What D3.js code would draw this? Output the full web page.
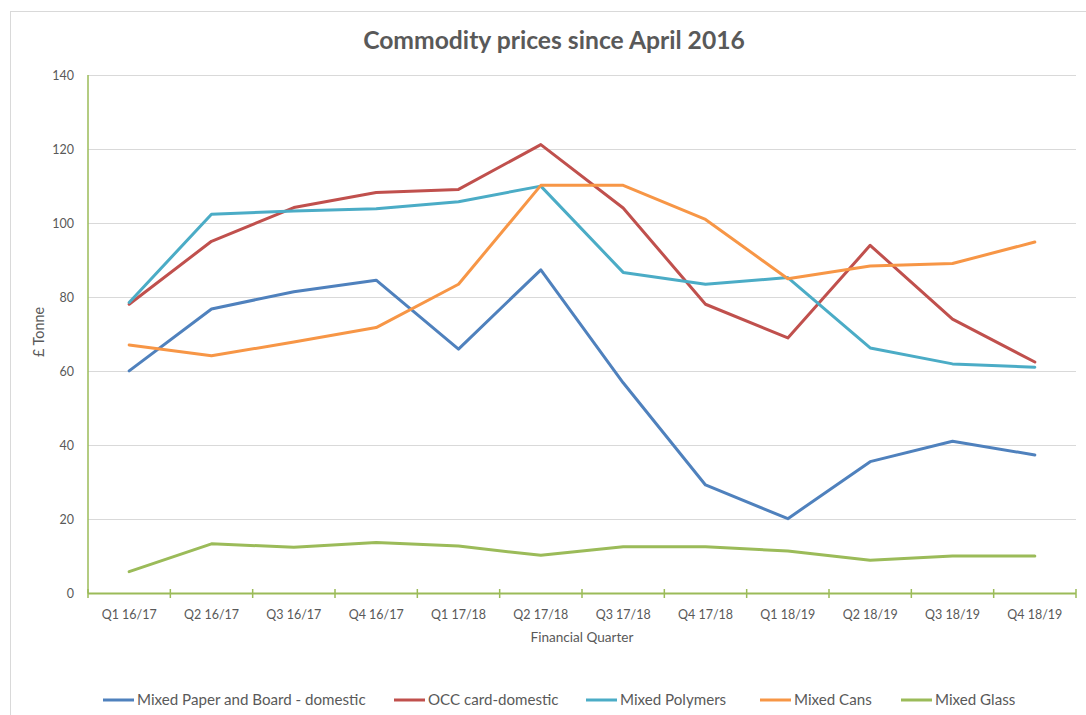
<!DOCTYPE html>
<html>
<head>
<meta charset="utf-8">
<script src="https://cdn.jsdelivr.net/npm/d3@7"></script>
<style>
  html, body { margin: 0; padding: 0; background: #fff; }
  svg { display: block; font-family: Lato, "Open Sans", sans-serif; }
</style>
</head>
<body>
<svg id="chart" width="1086" height="715"></svg>
<script>
const categories = ["Q1 16/17","Q2 16/17","Q3 16/17","Q4 16/17","Q1 17/18","Q2 17/18","Q3 17/18","Q4 17/18","Q1 18/19","Q2 18/19","Q3 18/19","Q4 18/19"];
const seriesNames = ["Mixed Paper and Board - domestic","OCC card-domestic","Mixed Polymers","Mixed Cans","Mixed Glass"];
const mixedPaper = [60.1, 76.8, 81.5, 84.6, 66.0, 87.4, 56.9, 29.3, 20.2, 35.6, 41.1, 37.4];
const occCard    = [78.1, 95.1, 104.2, 108.3, 109.1, 121.2, 104.1, 78.1, 69.0, 94.0, 74.1, 62.5];
const polymers   = [78.6, 102.4, 103.3, 103.9, 105.8, 110.0, 86.7, 83.5, 85.3, 66.3, 62.0, 61.1];
const cans       = [67.1, 64.2, 67.9, 71.8, 83.5, 110.2, 110.2, 101.0, 85.0, 88.4, 89.1, 94.9];
const glass      = [5.9, 13.4, 12.5, 13.8, 12.8, 10.3, 12.6, 12.6, 11.5, 9.0, 10.1, 10.1];
const yTicks = [0, 20, 40, 60, 80, 100, 120, 140];
const titleText = "Commodity prices since April 2016";
const xTitle = "Financial Quarter";
const yTitle = "£ Tonne";

const seriesValues = [mixedPaper, occCard, polymers, cans, glass];
const colors = ["#4F81BD", "#C0504D", "#4BACC6", "#F79646", "#9BBB59"];

const svg = d3.select("#chart");
const grey = "#595959";

// helper: font size that makes text reach a target width
function sizeFor(text, weight, target) {
  const t = svg.append("text").attr("font-size", 100).attr("font-weight", weight).text(text);
  const w = t.node().getComputedTextLength();
  t.remove();
  return 100 * target / w;
}

// outer border
svg.append("rect").attr("x", 10.5).attr("y", 11.5).attr("width", 1100).attr("height", 720)
  .attr("fill", "none").attr("stroke", "#d9d9d9").attr("stroke-width", 1);

const pLeft = 88, pRight = 1076, pTop = 75, pBottom = 593.5;
const x = d3.scaleBand().domain(categories).range([pLeft, pRight]).padding(0);
const y = d3.scaleLinear().domain([0, 140]).range([pBottom, pTop]);
const cx = c => x(c) + x.bandwidth() / 2;

// gridlines
svg.append("g").selectAll("line").data(yTicks.filter(d => d > 0)).join("line")
  .attr("x1", pLeft).attr("x2", pRight)
  .attr("y1", d => Math.round(y(d)) + 0.5).attr("y2", d => Math.round(y(d)) + 0.5)
  .attr("stroke", "#d9d9d9").attr("stroke-width", 1);

// title
svg.append("text").attr("x", 554).attr("y", 49).attr("text-anchor", "middle")
  .attr("font-weight", "bold").attr("fill", grey)
  .attr("font-size", sizeFor(titleText, "bold", 382)).text(titleText);

// y axis labels
const tickFs = sizeFor("Q1 16/17", "normal", 55);
const yAxis = svg.append("g").attr("transform", `translate(${pLeft},0)`)
  .call(d3.axisLeft(y).tickValues(yTicks).tickSize(0).tickPadding(14));
yAxis.select(".domain").remove();
yAxis.selectAll("text").attr("fill", grey).attr("font-size", tickFs).attr("font-family", "Lato, sans-serif");

// x axis labels
const xAxis = svg.append("g").attr("transform", `translate(0,${pBottom})`)
  .call(d3.axisBottom(x).tickSize(0).tickPadding(17));
xAxis.select(".domain").remove();
xAxis.selectAll("text").attr("fill", grey).attr("font-size", tickFs).attr("font-family", "Lato, sans-serif");

// axis lines (green)
svg.append("line").attr("x1", pLeft).attr("x2", pLeft).attr("y1", pTop).attr("y2", pBottom)
  .attr("stroke", "#9BBB59").attr("stroke-width", 1.5);
svg.append("line").attr("x1", pLeft).attr("x2", pRight).attr("y1", pBottom).attr("y2", pBottom)
  .attr("stroke", "#9BBB59").attr("stroke-width", 2);
const bounds = categories.map(c => x(c)).concat([x.range()[1]]);
svg.append("g").selectAll("line").data(bounds).join("line")
  .attr("x1", d => d).attr("x2", d => d).attr("y1", pBottom - 4.5).attr("y2", pBottom + 4.5)
  .attr("stroke", "#9BBB59").attr("stroke-width", 1.5);

// axis titles
svg.append("text").attr("x", (pLeft + pRight) / 2).attr("y", 642).attr("text-anchor", "middle")
  .attr("fill", grey).attr("font-size", sizeFor(xTitle, "normal", 103)).text(xTitle);
svg.append("text").attr("transform", `translate(44,332) rotate(-90)`)
  .attr("text-anchor", "middle").attr("fill", grey)
  .attr("font-size", sizeFor(yTitle, "normal", 50)).text(yTitle);

// lines
const line = d3.line().x((d, i) => cx(categories[i])).y(d => y(d));
svg.append("g").selectAll("path").data(seriesValues).join("path")
  .attr("d", d => line(d)).attr("fill", "none")
  .attr("stroke", (d, i) => colors[i]).attr("stroke-width", 3)
  .attr("stroke-linejoin", "round").attr("stroke-linecap", "round");

// legend
const legFs = sizeFor(seriesNames[0], "normal", 229);
const legStarts = [103, 394, 586, 760, 901];
const leg = svg.append("g").selectAll("g").data(seriesNames).join("g")
  .attr("transform", (d, i) => `translate(${legStarts[i]},700)`);
leg.append("line").attr("x1", 0).attr("x2", 31).attr("y1", 0).attr("y2", 0)
  .attr("stroke", (d, i) => colors[i]).attr("stroke-width", 3);
leg.append("text").attr("x", 34).attr("y", 5).attr("fill", grey)
  .attr("font-size", legFs).text(d => d);
</script>
</body>
</html>
